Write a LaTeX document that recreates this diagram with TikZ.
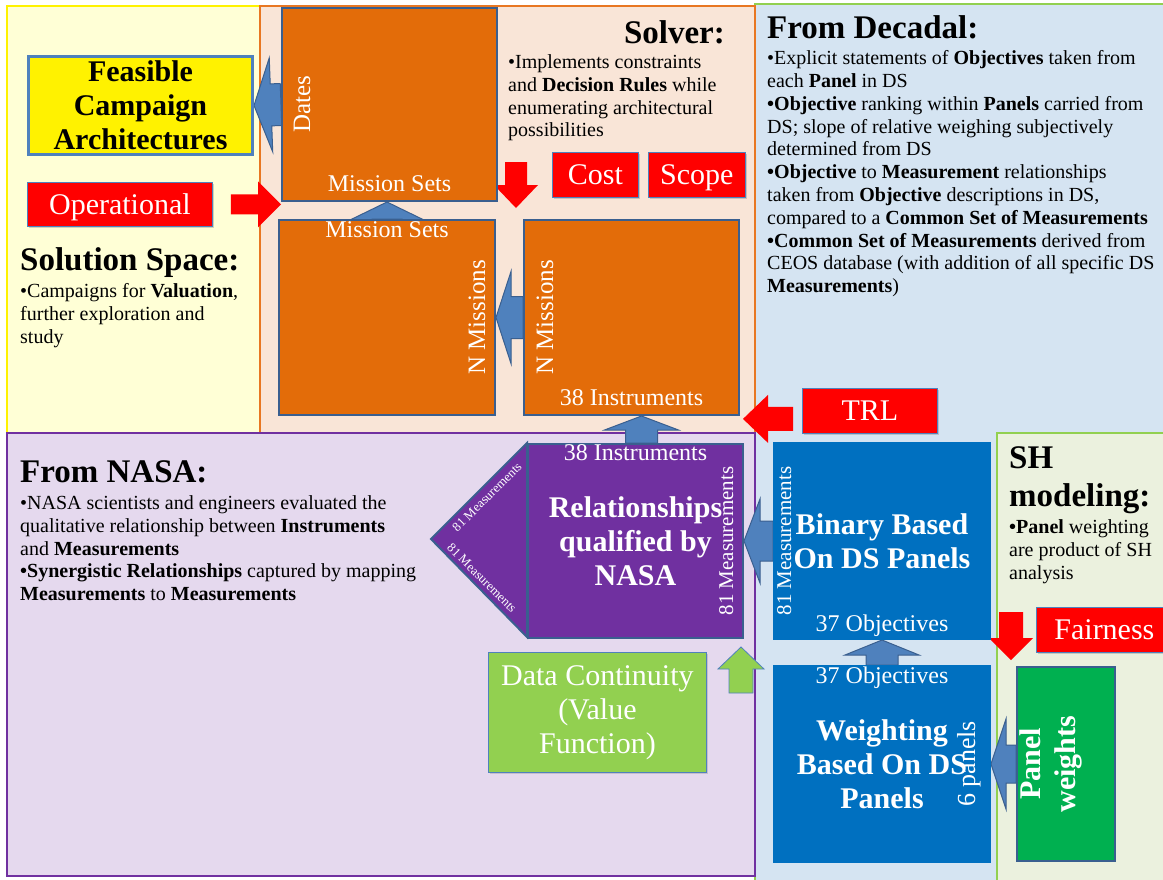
\documentclass[tikz,border=0pt]{standalone}
\usepackage{fontspec}
\setmainfont{Liberation Serif}
\usetikzlibrary{calc,shadows}

\definecolor{solyellow}{HTML}{FFFFD6}
\definecolor{solverbg}{HTML}{F9E5D7}
\definecolor{decadalbg}{HTML}{D5E4F2}
\definecolor{nasabg}{HTML}{E5D9EE}
\definecolor{shbg}{HTML}{EBF1DE}
\definecolor{shgreen}{HTML}{92D050}
\definecolor{orangeline}{HTML}{E87722}
\definecolor{orangebox}{HTML}{E36C09}
\definecolor{boxline}{HTML}{3A5F8F}
\definecolor{arrowblue}{HTML}{4F81BD}
\definecolor{nasapurple}{HTML}{7030A0}
\definecolor{dsblue}{HTML}{0070C0}
\definecolor{litegreen}{HTML}{92D050}
\definecolor{pwgreen}{HTML}{00B050}
\definecolor{alertred}{HTML}{FF0000}

\newcommand{\fsbody}{\fontsize{20}{22.8}\selectfont}
\newcommand{\fshead}{\fontsize{33}{38}\selectfont}
\newcommand{\fsbig}{\fontsize{30}{34}\selectfont}
\newcommand{\fslbl}{\fontsize{24}{28}\selectfont}
\newcommand{\fsmeas}{\fontsize{21}{24}\selectfont}
\newcommand{\fstiny}{\fontsize{13}{15}\selectfont}

\pgfdeclarelayer{back}
\pgfdeclarelayer{arrowlayer}
\pgfsetlayers{back,arrowlayer,main}

\tikzset{
  region/.style={line width=2pt},
  box/.style={draw=boxline, line width=2pt, inner sep=0pt, anchor=north west, align=center},
  obox/.style={box, fill=orangebox},
  alertbox/.style={box, fill=alertred, draw=arrowblue, line width=0.8pt, text=white, font=\fsbig,
    text height=20pt, text depth=0pt,
    drop shadow={opacity=0.35, shadow xshift=1.5pt, shadow yshift=-1.5pt}},
  lbl/.style={text=white, font=\fslbl, inner sep=0pt, anchor=base},
  bodytext/.style={anchor=north west, align=left, inner sep=0pt, font=\fsbody},
  headtext/.style={anchor=base west, inner sep=0pt, font=\fshead\bfseries},
  fat/.style n args={3}{to path={
    ($(\tikztostart)!#1!90:(\tikztotarget)$)
    -- ($($(\tikztotarget)!#3!(\tikztostart)$)!#1!90:(\tikztotarget)$)
    -- ($($(\tikztotarget)!#3!(\tikztostart)$)!#2!90:(\tikztotarget)$)
    -- (\tikztotarget)
    -- ($($(\tikztotarget)!#3!(\tikztostart)$)!#2!-90:(\tikztotarget)$)
    -- ($($(\tikztotarget)!#3!(\tikztostart)$)!#1!-90:(\tikztotarget)$)
    -- ($(\tikztostart)!#1!-90:(\tikztotarget)$)
    -- cycle}},
  bluearrow/.style={draw=boxline, fill=arrowblue, line width=1pt},
  redarrow/.style={fill=alertred},
  greenarrow/.style={draw=arrowblue, fill=litegreen, line width=0.8pt},
}

\begin{document}
\begin{tikzpicture}[x=1pt, y=-1pt]
\useasboundingbox (0,0) rectangle (1163,879);
\begin{pgfonlayer}{back}
\fill[white] (0,0) rectangle (1163,879);
% regions
\filldraw[region, fill=decadalbg, draw=shgreen] (755,4) rectangle (1175,890);
\filldraw[region, fill=solyellow, draw=yellow] (7,6) rectangle (260,433);
\filldraw[region, fill=solverbg, draw=orangeline] (260,6) rectangle (755,433);
\filldraw[region, fill=nasabg, draw=nasapurple] (7,433) rectangle (755,876);
\filldraw[region, fill=shbg, draw=shgreen] (997,433) rectangle (1175,890);
\end{pgfonlayer}

% headings and notes
\node[headtext, anchor=base east] (solverhead) at (725,43) {Solver:};
\node[bodytext] (solvernote) at (508,54.5) {%
  •Implements constraints\\
  and \textbf{Decision Rules} while\\
  enumerating architectural\\
  possibilities};
\node[headtext] (decadalhead) at (767,38) {From Decadal:};
\node[bodytext] (decadalnote) at (767,50.5) {%
  •Explicit statements of \textbf{Objectives} taken from\\
  each \textbf{Panel} in DS\\
  \textbf{•Objective} ranking within \textbf{Panels} carried from\\
  DS; slope of relative weighing subjectively\\
  determined from DS\\
  \textbf{•Objective} to \textbf{Measurement} relationships\\
  taken from \textbf{Objective} descriptions in DS,\\
  compared to a \textbf{Common Set of Measurements}\\
  \textbf{•Common Set of Measurements} derived from\\
  CEOS database (with addition of all specific DS\\
  \textbf{Measurements})};
\node[headtext] (solhead) at (20,270) {Solution Space:};
\node[bodytext] (solnote) at (20,283.5) {%
  •Campaigns for \textbf{Valuation},\\
  further exploration and\\
  study};
\node[headtext] (nasahead) at (20,482) {From NASA:};
\node[bodytext] (nasanote) at (20,495.5) {%
  •NASA scientists and engineers evaluated the\\
  qualitative relationship between \textbf{Instruments}\\
  and \textbf{Measurements}\\
  \textbf{•Synergistic Relationships} captured by mapping\\
  \textbf{Measurements} to \textbf{Measurements}};
\node[headtext, anchor=north west, align=left] (shhead) at (1009,446) {SH\\modeling:};
\node[bodytext] (shnote) at (1009,519.5) {%
  \textbf{•Panel} weighting\\
  are product of SH\\
  analysis};

% solver boxes
\node[obox, minimum width=215, minimum height=193] (dates) at (281,7) {};
\node[obox, minimum width=216, minimum height=195] (missions) at (278,219) {};
\node[obox, minimum width=215, minimum height=195] (instr) at (523,219) {};
\node[alertbox, minimum width=86, minimum height=45] (cost) at (552,152) {Cost};
\node[alertbox, minimum width=97, minimum height=45] (scope) at (648,152) {Scope};

% solution space boxes
\node[box, draw=arrowblue, line width=3pt, fill=yellow, font=\fsbig\bfseries,
  minimum width=224, minimum height=98] (feasible) at (27,55) {Feasible\\Campaign\\Architectures};
\node[alertbox, minimum width=185, minimum height=44] (operational) at (27,182) {Operational};
\node[alertbox, minimum width=135, minimum height=45] (trl) at (802,388) {TRL};

% nasa box with its point
\filldraw[fill=nasapurple, draw=boxline, line width=2pt] (527,443) -- (431,539) -- (527,637) -- cycle;
\node[box, fill=nasapurple, text=white, font=\fsbig\bfseries, minimum width=215, minimum height=194]
  (nasa) at (527,443) {Relationships\\qualified by\\NASA};
\node[text=white, font=\fstiny, rotate=45, inner sep=0pt] (measup) at (487,497) {81 Measurements};
\node[text=white, font=\fstiny, rotate=-45, inner sep=0pt] (measdown) at (482,578) {81 Measurements};
\node[box, draw=arrowblue, line width=0.8pt, fill=litegreen, text=white, font=\fsbig,
  minimum width=218, minimum height=120, drop shadow={opacity=0.3, shadow xshift=1.5pt, shadow yshift=-1.5pt}]
  (datacont) at (488,652) {Data Continuity\\(Value\\Function)};

% decadal boxes
\node[box, draw=dsblue, fill=dsblue, text=white, font=\fsbig\bfseries, minimum width=216, minimum height=196]
  (binary) at (773,442) {Binary Based\\On DS Panels};
\node[box, draw=dsblue, fill=dsblue, text=white, font=\fsbig\bfseries, minimum width=216, minimum height=196]
  (weight) at (773,665) {Weighting\\Based On DS\\Panels};
\node[alertbox, minimum width=136, minimum height=45] (fairness) at (1036,607) {Fairness};
\node[box, fill=pwgreen, minimum width=98, minimum height=194] (panelw) at (1016,666) {};

% box labels
\node[lbl] (datesets) at ([shift={(0,-11)}]dates.south) {Mission Sets};
\node[lbl, font=\fontsize{25}{28}\selectfont, rotate=90] (dateslbl) at ([shift={(29,0)}]dates.west) {Dates};
\node[lbl] (missionsets) at ([shift={(0,18)}]missions.north) {Mission Sets};
\node[lbl, font=\fontsize{25}{28}\selectfont, rotate=90] (nmleft) at ([shift={(-11,0)}]missions.east) {N Missions};
\node[lbl, font=\fontsize{25}{28}\selectfont, rotate=90] (nmright) at ([shift={(30,0)}]instr.west) {N Missions};
\node[lbl] (instrlbl) at ([shift={(0,-11)}]instr.south) {38 Instruments};
\node[lbl] (nasainstr) at ([shift={(0,17)}]nasa.north) {38 Instruments};
\node[lbl, font=\fsmeas, rotate=90] (nasameas) at ([shift={(-11,0)}]nasa.east) {81 Measurements};
\node[lbl, font=\fsmeas, rotate=90] (binmeas) at ([shift={(18,0)}]binary.west) {81 Measurements};
\node[lbl] (binobj) at ([shift={(0,-9)}]binary.south) {37 Objectives};
\node[lbl] (weightobj) at ([shift={(0,18)}]weight.north) {37 Objectives};
\node[lbl, font=\fontsize{26}{28}\selectfont, rotate=90] (sixpanels) at ([shift={(-16,0)}]weight.east) {6 panels};
\node[text=white, font=\fontsize{30}{35}\selectfont\bfseries, rotate=90, align=center, inner sep=0pt]
  (pwtext) at ([shift={(-15,0)}]panelw.center) {Panel\\weights};

% free arrow ends
\coordinate (opstail) at ([xshift=18pt]operational.east);
\coordinate (costtail) at (516,162);
\coordinate (costtip) at (516,208);
\coordinate (instrtail) at ([xshift=6pt]nasa.north);
\coordinate (trltail) at ([shift={(-9,8)}]trl.west);
\coordinate (trltip) at ([xshift=3pt]trltail -| instr.east);
\coordinate (dctail) at (741,693);
\coordinate (dctip) at (741,647);
\coordinate (fairtail) at (1011,612);
\coordinate (fairtip) at (1011,660);

% block arrows
\begin{pgfonlayer}{arrowlayer}
\path[bluearrow] (dates.west) to[fat={21pt}{47pt}{17pt}] (feasible.east);
\path[bluearrow] (missions.north) to[fat={15pt}{37pt}{18pt}] (missions.north |- dates.south);
\path[bluearrow] (instr.west) to[fat={21pt}{46pt}{15pt}] (missions.east);
\path[bluearrow] (instrtail) to[fat={16pt}{37pt}{14pt}] (instrtail |- instr.south);
\path[bluearrow] (binary.west) to[fat={20pt}{42pt}{16pt}] (nasa.east);
\path[bluearrow] (weight.north) to[fat={16pt}{37pt}{15pt}] (weight.north |- binary.south);
\path[bluearrow] (panelw.west) to[fat={19pt}{45pt}{15pt}] (weight.east);
\path[redarrow] (opstail) to[fat={10pt}{23pt}{23pt}] (opstail -| dates.west);
\path[redarrow] (costtail) to[fat={11pt}{22pt}{23pt}] (costtip);
\path[redarrow] (trltail) to[fat={12pt}{24pt}{25pt}] (trltip);
\path[redarrow] (fairtail) to[fat={12pt}{22pt}{22pt}] (fairtip);
\path[greenarrow] (dctail) to[fat={12pt}{23pt}{22pt}] (dctip);
\end{pgfonlayer}
\end{tikzpicture}
\end{document}
